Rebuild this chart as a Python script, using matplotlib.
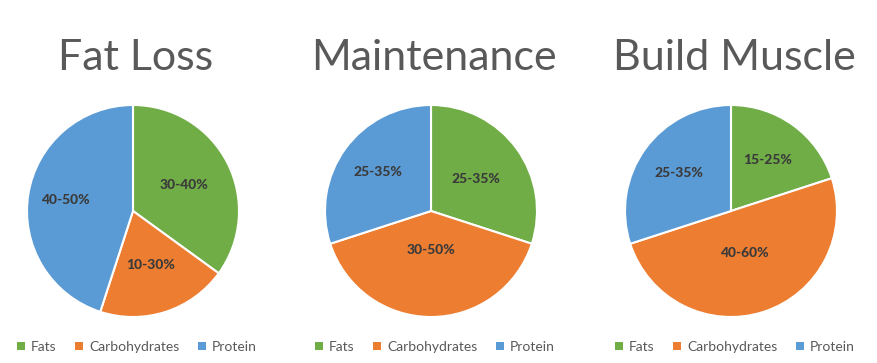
import matplotlib
matplotlib.use("Agg")
import matplotlib.pyplot as plt
from matplotlib.patches import Patch
import numpy as np

titles = ["Fat Loss", "Maintenance", "Build Muscle"]
categories = ["Fats", "Carbohydrates", "Protein"]
values_fat_loss = [35, 20, 45]
values_maintenance = [30, 40, 30]
values_build_muscle = [20, 50, 30]
labels_fat_loss = ["30-40%", "10-30%", "40-50%"]
labels_maintenance = ["25-35%", "30-50%", "25-35%"]
labels_build_muscle = ["15-25%", "40-60%", "25-35%"]

all_values = [values_fat_loss, values_maintenance, values_build_muscle]
all_labels = [labels_fat_loss, labels_maintenance, labels_build_muscle]

colors = ["#70AD47", "#ED7D31", "#5B9BD5"]
label_dist = [[0.54, 0.54, 0.65], [0.52, 0.37, 0.62], [0.59, 0.42, 0.61]]

W, H = 877, 363
fig = plt.figure(figsize=(W / 100, H / 100), dpi=100)
fig.patch.set_facecolor("white")

centers = [(133, 211), (431, 211), (731, 211)]
r = 106

for i, (cx, cy) in enumerate(centers):
    ax = fig.add_axes([(cx - r) / W, (H - cy - r) / H, 2 * r / W, 2 * r / H])
    wedges, _ = ax.pie(all_values[i], colors=colors, startangle=90, counterclock=False,
                       wedgeprops=dict(edgecolor="white", linewidth=1.5))
    ax.set_xlim(-1, 1)
    ax.set_ylim(-1, 1)
    for w, lab, d in zip(wedges, all_labels[i], label_dist[i]):
        ang = np.deg2rad((w.theta1 + w.theta2) / 2)
        ax.text(d * np.cos(ang), d * np.sin(ang), lab, ha="center", va="center",
                fontsize=10, fontweight="black", color="#3a3a3a", family="Lato")
    fig.text((cx + 3) / W, (H - 70) / H, titles[i], ha="center", va="baseline",
             fontsize=31, color="#595959", family="Lato")
    handles = [Patch(facecolor=c, edgecolor="none") for c in colors]
    leg = fig.legend(handles, categories, loc="center", bbox_to_anchor=((cx + 4) / W, (H - 347) / H),
                     ncol=3, frameon=False, handlelength=0.55, handleheight=0.55,
                     handletextpad=0.45, columnspacing=1.35,
                     prop=dict(family="Lato", size=10))
    for t in leg.get_texts():
        t.set_color("#595959")

fig.savefig("out.png", dpi=100, facecolor="white")
